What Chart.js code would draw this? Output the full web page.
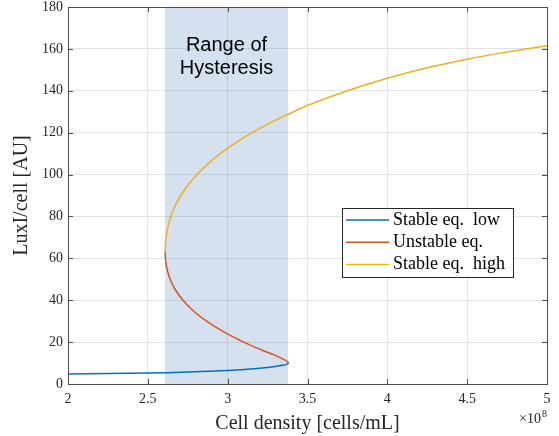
<!DOCTYPE html>
<html>
<head>
<meta charset="utf-8">
<script src="https://cdn.jsdelivr.net/npm/chart.js@4.4.1/dist/chart.umd.min.js"></script>
<style>
  html, body { margin: 0; padding: 0; background: #fff; }
</style>
</head>
<body>
<canvas id="hystChart" width="559" height="436"></canvas>
<script>
// cell density in units of 1e8 cells/mL, LuxI/cell in AU
const lowX = [2.0, 2.25, 2.5, 2.75, 3.0, 3.1, 3.2, 3.28, 3.345, 3.372, 3.382];
const lowY = [4.8, 5.0, 5.2, 5.7, 6.4, 6.9, 7.5, 8.2, 8.9, 9.5, 10.2];

const unstableX = [3.382, 3.362, 3.33, 3.288, 3.221, 3.1, 2.973, 2.868, 2.784, 2.72, 2.672, 2.64, 2.623, 2.615, 2.61, 2.609];
const unstableY = [10.2, 11.3, 12.5, 14.0, 16.0, 20.0, 25.0, 30.0, 35.0, 40.0, 45.0, 50.0, 54.0, 57.0, 60.0, 63.0];

const highX = [2.609, 2.61, 2.614, 2.626, 2.644, 2.67, 2.707, 2.752, 2.808, 2.875, 2.954, 3.047, 3.154, 3.275, 3.413, 3.5, 3.75, 4.0, 4.25, 4.5, 4.75, 5.0];
const highY = [63.0, 66.0, 70.0, 75.0, 80.0, 85.0, 90.0, 95.0, 100.0, 105.0, 110.0, 115.0, 120.0, 125.0, 130.0, 133.0, 140.0, 146.0, 151.0, 155.1, 158.5, 161.5];

const seriesNames = ["Stable eq.  low", "Unstable eq.", "Stable eq.  high"];
const seriesColors = ["#0072BD", "#D95319", "#EDB120"];

const hystStart = 2.607;
const hystEnd = 3.378;

const xMin = 2, xMax = 5, xStep = 0.5;
const yMin = 0, yMax = 180, yStep = 20;

const serif = "'Liberation Serif', 'DejaVu Serif', serif";
const axisColor = "#4d4d4d";

function toPoints(xs, ys) {
  return xs.map((x, i) => ({ x: x, y: ys[i] }));
}

// ==============================
// PLUGINS
// ==============================
const hysteresisBand = {
  id: "hysteresisBand",
  beforeDatasetsDraw(chart) {
    const { ctx, chartArea, scales } = chart;
    const x0 = scales.x.getPixelForValue(hystStart);
    const x1 = scales.x.getPixelForValue(hystEnd);
    ctx.save();
    ctx.fillStyle = "rgba(50, 105, 180, 0.2)";
    ctx.fillRect(x0, chartArea.top, x1 - x0, chartArea.bottom - chartArea.top);

    const cx = scales.x.getPixelForValue((hystStart + hystEnd) / 2);
    ctx.fillStyle = "#000";
    ctx.font = "20px 'Liberation Sans', Arial, sans-serif";
    ctx.textAlign = "center";
    ctx.textBaseline = "middle";
    ctx.fillText("Range of", cx, scales.y.getPixelForValue(161.5));
    ctx.fillText("Hysteresis", cx, scales.y.getPixelForValue(150.5));
    ctx.restore();
  }
};

const matlabBox = {
  id: "matlabBox",
  afterDatasetsDraw(chart) {
    const { ctx, chartArea, scales } = chart;
    const { left, right, top, bottom } = chartArea;
    const tl = 5;
    ctx.save();
    ctx.strokeStyle = axisColor;
    ctx.lineWidth = 1;
    ctx.beginPath();
    scales.x.ticks.forEach(t => {
      const px = Math.round(scales.x.getPixelForValue(t.value)) + 0.5;
      ctx.moveTo(px, bottom); ctx.lineTo(px, bottom - tl);
      ctx.moveTo(px, top); ctx.lineTo(px, top + tl);
    });
    scales.y.ticks.forEach(t => {
      const py = Math.round(scales.y.getPixelForValue(t.value)) + 0.5;
      ctx.moveTo(left, py); ctx.lineTo(left + tl, py);
      ctx.moveTo(right, py); ctx.lineTo(right - tl, py);
    });
    ctx.stroke();
    ctx.strokeRect(Math.round(left) + 0.5, Math.round(top) + 0.5,
      Math.round(right - left), Math.round(bottom - top));

    // x10^8 exponent label
    ctx.fillStyle = "#262626";
    ctx.textBaseline = "alphabetic";
    ctx.textAlign = "right";
    ctx.font = "10px " + serif;
    ctx.fillText("8", right, 417);
    const w8 = ctx.measureText("8").width;
    ctx.font = "14px " + serif;
    ctx.fillText("\u00d710", right - w8 - 1, 423);
    ctx.restore();
  }
};

const boxLegend = {
  id: "boxLegend",
  afterDraw(chart) {
    const { ctx } = chart;
    const bx = 342, by = 208, bw = 171, bh = 69;
    ctx.save();
    ctx.fillStyle = "#fff";
    ctx.fillRect(bx, by, bw, bh);
    ctx.strokeStyle = "#262626";
    ctx.lineWidth = 1;
    ctx.strokeRect(bx + 0.5, by + 0.5, bw, bh);
    ctx.font = "18px " + serif;
    ctx.textBaseline = "middle";
    ctx.textAlign = "left";
    chart.data.datasets.forEach((ds, i) => {
      const y = by + 12 + i * 22.3;
      ctx.strokeStyle = ds.borderColor;
      ctx.lineWidth = 1.5;
      ctx.beginPath();
      ctx.moveTo(bx + 4, y);
      ctx.lineTo(bx + 47, y);
      ctx.stroke();
      ctx.fillStyle = "#000";
      ctx.fillText(ds.label, bx + 51, y);
    });
    ctx.restore();
  }
};

// ==============================
// CHART
// ==============================
const ctx = document.getElementById("hystChart");

new Chart(ctx, {
  type: "scatter",
  data: {
    datasets: [
      { label: seriesNames[0], data: toPoints(lowX, lowY), borderColor: seriesColors[0] },
      { label: seriesNames[1], data: toPoints(unstableX, unstableY), borderColor: seriesColors[1] },
      { label: seriesNames[2], data: toPoints(highX, highY), borderColor: seriesColors[2] }
    ].map(ds => Object.assign(ds, {
      showLine: true,
      pointRadius: 0,
      borderWidth: 1.5,
      tension: 0.4,
      fill: false
    }))
  },
  options: {
    responsive: false,
    animation: false,
    events: [],
    layout: { padding: { top: 7, right: 12, left: 0, bottom: 0 } },
    plugins: {
      legend: { display: false },
      tooltip: { enabled: false }
    },
    scales: {
      x: {
        type: "linear",
        min: xMin,
        max: xMax,
        afterFit: s => { s.height = 52; s.paddingLeft = 0; s.paddingRight = 0; },
        ticks: {
          stepSize: xStep,
          padding: 7,
          color: "#262626",
          font: { family: serif, size: 14 },
          callback: v => String(v),
          maxRotation: 0
        },
        grid: { color: "#e3e3e3", drawTicks: false },
        border: { color: axisColor },
        title: {
          display: true,
          text: "Cell density [cells/mL]",
          color: "#262626",
          font: { family: serif, size: 20 },
          padding: { top: 4, bottom: 0 }
        }
      },
      y: {
        type: "linear",
        min: yMin,
        max: yMax,
        afterFit: s => { s.width = 68; s.paddingTop = 0; s.paddingBottom = 0; },
        ticks: {
          stepSize: yStep,
          padding: 5,
          color: "#262626",
          font: { family: serif, size: 14 }
        },
        grid: { color: "#e3e3e3", drawTicks: false },
        border: { color: axisColor },
        title: {
          display: true,
          text: "LuxI/cell [AU]",
          color: "#262626",
          font: { family: serif, size: 20 },
          padding: { top: 10, bottom: 0 }
        }
      }
    }
  },
  plugins: [hysteresisBand, matlabBox, boxLegend]
});
</script>
</body>
</html>
